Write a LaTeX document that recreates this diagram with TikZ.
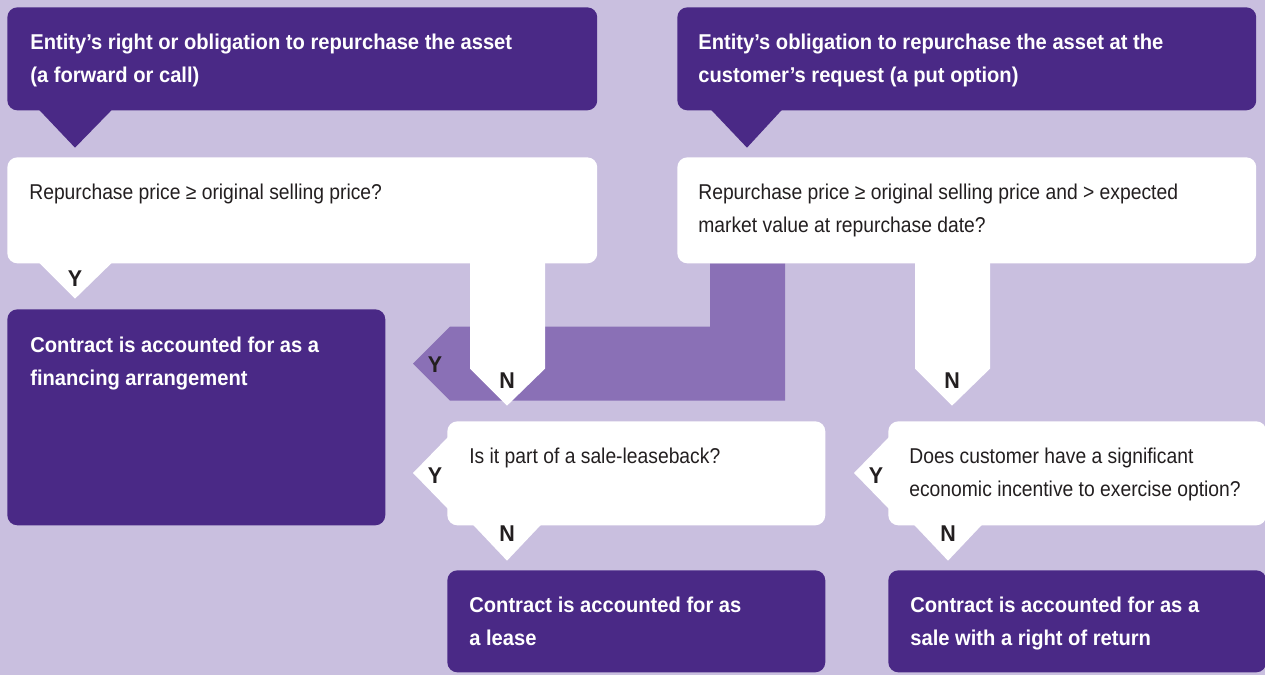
\documentclass[tikz,border=0pt]{standalone}
\usepackage{fontspec}
\setmainfont{Liberation Sans}[FakeStretch=0.9]
\newfontfamily\headfont{Liberation Sans}[FakeStretch=0.94]
\usetikzlibrary{calc}

\definecolor{bgpurple}{RGB}{201,191,223}
\definecolor{darkpurple}{RGB}{74,41,134}
\definecolor{midpurple}{RGB}{138,112,182}
\definecolor{inkgray}{RGB}{35,31,32}

\tikzset{
  darkbox/.style={fill=darkpurple, rounded corners=0.2cm, anchor=north west, inner sep=0pt},
  litebox/.style={fill=white, rounded corners=0.2cm, anchor=north west, inner sep=0pt},
  headtxt/.style={anchor=north west, inner sep=0pt, align=left, text=white,
    font=\headfont\bfseries\fontsize{12.2}{18.8}\selectfont},
  qtxt/.style={anchor=north west, inner sep=0pt, align=left, text=inkgray,
    font=\fontsize{12.2}{18.5}\selectfont},
  yn/.style={inner sep=0pt, text=inkgray, font=\headfont\bfseries\fontsize{13}{14}\selectfont}
}

\begin{document}
\begin{tikzpicture}[x=0.02cm, y=-0.02cm]
\fill[bgpurple] (0,0) rectangle (1265,675);
\useasboundingbox (0,0) rectangle (1265,675);

% boxes
\node[darkbox, minimum width=11.8cm, minimum height=2.06cm] (ent1) at (7,7) {};
\node[darkbox, minimum width=11.58cm, minimum height=2.06cm] (ent2) at (677,7) {};
\node[litebox, minimum width=11.8cm, minimum height=2.12cm] (q1) at (7,157) {};
\node[litebox, minimum width=11.58cm, minimum height=2.12cm] (q2) at (677,157) {};
\node[darkbox, minimum width=7.56cm, minimum height=4.32cm] (fin) at (7,309) {};

% bent arrow q2 -> fin
\fill[midpurple] ($(q2.south west)+(33,0)$) -- ++(0,63) -- ++(-260,0) -- ++(-37,37)
  -- ++(37,37) -- ++(335,0) -- ++(0,-137) -- cycle;

\node[litebox, minimum width=7.56cm, minimum height=2.08cm] (q3) at (447,421) {};
\node[litebox, minimum width=7.56cm, minimum height=2.08cm] (q4) at (888,421) {};
\node[darkbox, minimum width=7.56cm, minimum height=2.04cm] (lease) at (447,570) {};
\node[darkbox, minimum width=7.56cm, minimum height=2.04cm] (ret) at (888,570) {};

% pointers
\fill[darkpurple] ($(ent1.south west)+(31,-2)$) -- ($(ent1.south west)+(68,37)$) -- ($(ent1.south west)+(106,-2)$) -- cycle;
\fill[darkpurple] ($(ent2.south west)+(33,-2)$) -- ($(ent2.south west)+(70,37)$) -- ($(ent2.south west)+(106,-2)$) -- cycle;
\fill[white] ($(q1.south west)+(31,-2)$) -- ($(q1.south west)+(68,35)$) -- ($(q1.south west)+(106,-2)$) -- cycle;
\fill[white] ($(q1.south west)+(463,-5)$) -- ++(0,110) -- ++(37,37) -- ++(38,-37) -- ++(0,-110) -- cycle;
\fill[white] ($(q2.south west)+(238,-5)$) -- ++(0,110) -- ++(37,37) -- ++(38,-37) -- ++(0,-110) -- cycle;
\fill[white] ($(q3.north west)+(2,15)$) -- ($(q3.north west)+(-34,52)$) -- ($(q3.north west)+(2,89)$) -- cycle;
\fill[white] ($(q3.south west)+(25,-2)$) -- ($(q3.south west)+(60,35)$) -- ($(q3.south west)+(95,-2)$) -- cycle;
\fill[white] ($(q4.north west)+(2,15)$) -- ($(q4.north west)+(-34,52)$) -- ($(q4.north west)+(2,89)$) -- cycle;
\fill[white] ($(q4.south west)+(25,-2)$) -- ($(q4.south west)+(60,35)$) -- ($(q4.south west)+(95,-2)$) -- cycle;

% texts
\node[headtxt] (ent1-t) at ($(ent1.north west)+(23,27)$) {Entity’s right or obligation to repurchase the asset\\(a forward or call)};
\node[headtxt] (ent2-t) at ($(ent2.north west)+(21,27)$) {Entity’s obligation to repurchase the asset at the\\customer’s request (a put option)};
\node[qtxt] (q1-t) at ($(q1.north west)+(22,27)$) {Repurchase price ≥ original selling price?};
\node[qtxt] (q2-t) at ($(q2.north west)+(21,27)$) {Repurchase price ≥ original selling price and > expected\\market value at repurchase date?};
\node[headtxt] (fin-t) at ($(fin.north west)+(23,28)$) {Contract is accounted for as a\\financing arrangement};
\node[qtxt] (q3-t) at ($(q3.north west)+(22,27)$) {Is it part of a sale-leaseback?};
\node[qtxt] (q4-t) at ($(q4.north west)+(21,27)$) {Does customer have a significant\\economic incentive to exercise option?};
\node[headtxt] (lease-t) at ($(lease.north west)+(22,27)$) {Contract is accounted for as\\a lease};
\node[headtxt] (ret-t) at ($(ret.north west)+(22,27)$) {Contract is accounted for as a\\sale with a right of return};

% Y / N
\node[yn] (y1) at ($(q1.south west)+(68,15)$) {Y};
\node[yn] (n1) at ($(q1.south west)+(500,117)$) {N};
\node[yn] (y2) at (435,365) {Y};
\node[yn] (n2) at ($(q2.south west)+(275,117)$) {N};
\node[yn] (y3) at ($(q3.north west)+(-12,55)$) {Y};
\node[yn] (n3) at ($(q3.south west)+(60,8)$) {N};
\node[yn] (y4) at ($(q4.north west)+(-12,55)$) {Y};
\node[yn] (n4) at ($(q4.south west)+(60,8)$) {N};
\end{tikzpicture}
\end{document}
